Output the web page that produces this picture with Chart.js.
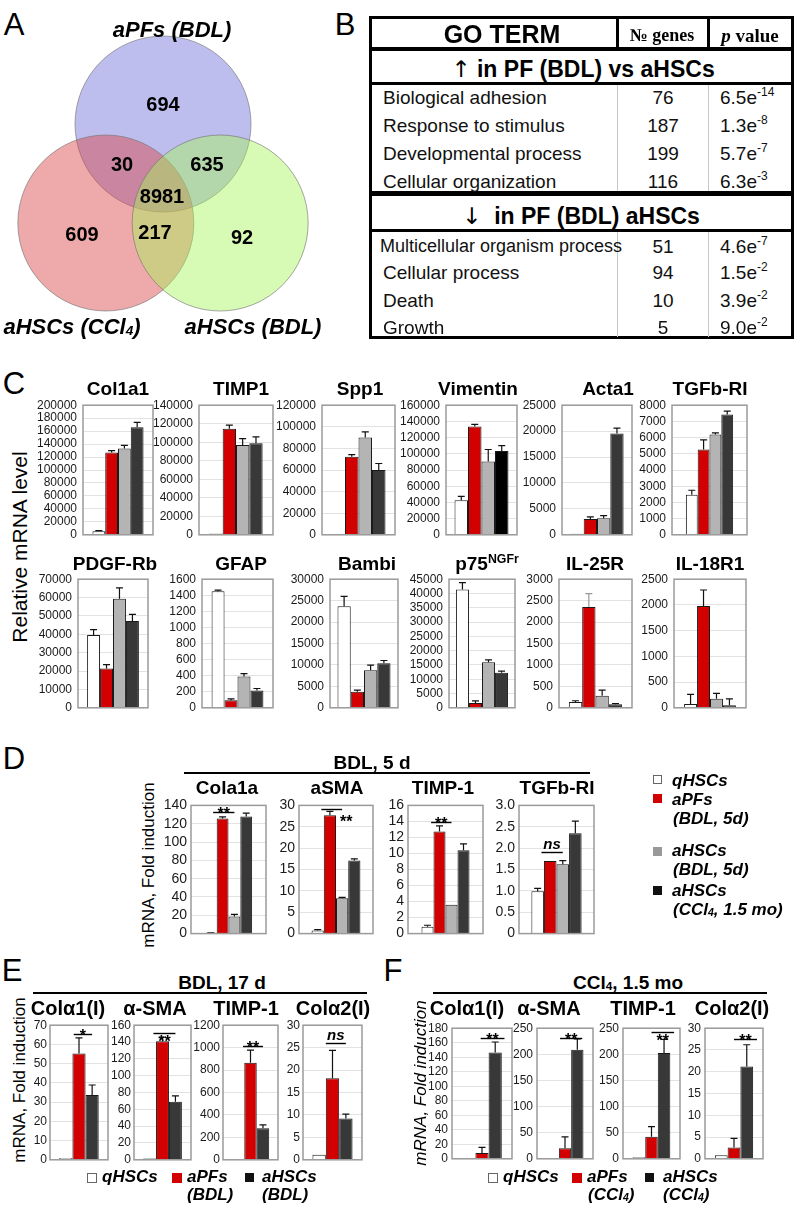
<!DOCTYPE html>
<html>
<head>
<meta charset="utf-8">
<script src="https://cdn.jsdelivr.net/npm/chart.js@4/dist/chart.umd.min.js"></script>
<style>
body { margin: 0; background: #fff; }
#page { position: relative; width: 799px; height: 1205px; overflow: hidden; font-family: "Liberation Sans", Arial, sans-serif; color: #000; }
.t { position: absolute; white-space: nowrap; line-height: 1; }
.sub { font-size: 0.62em; position: relative; top: 0.05em; }
.sup { font-size: 0.65em; position: relative; top: -0.55em; }
.pe { font-size: 12px; position: relative; top: -8px; }
.arr { font-family: "DejaVu Sans", sans-serif; font-weight: normal; color: #000; }
canvas { position: absolute; }
</style>
</head>
<body>
<div id="page"></div>
<script>
// ---------------- data ----------------
// A: Venn
const vennSets = ["aPFs (BDL)", "aHSCs (CCl4)", "aHSCs (BDL)"];
const vennRegions = ["aPFs only", "aPFs + CCl4", "aPFs + BDL", "all three", "CCl4 only", "CCl4 + BDL", "BDL only"];
const vennCounts = [694, 30, 635, 8981, 609, 217, 92];

// B: GO terms
const goUpTerms = ["Biological adhesion", "Response to stimulus", "Developmental process", "Cellular organization"];
const goUpGenes = [76, 187, 199, 116];
const goUpMant = ["6.5", "1.3", "5.7", "6.3"];
const goUpExp = ["-14", "-8", "-7", "-3"];
const goDownTerms = ["Multicellular organism process", "Cellular process", "Death", "Growth"];
const goDownGenes = [51, 94, 10, 5];
const goDownMant = ["4.6", "1.5", "3.9", "9.0"];
const goDownExp = ["-7", "-2", "-2", "-2"];

// C: relative mRNA level (qHSCs, aPFs, aHSCs BDL, aHSCs CCl4)
const genesC = ["Col1a1", "TIMP1", "Spp1", "Vimentin", "Acta1", "TGFb-RI", "PDGF-Rb", "GFAP", "Bambi", "p75NGFr", "IL-25R", "IL-18R1"];
const qC = [5500, 1500, null, 42700, 200, 2470, 39600, 1450, 23700, 41400, 134, 75];
const qCerr = [1000, 0, 0, 4700, 0, 280, 3000, 15, 2300, 2400, 30, 186];
const aPFC = [127000, 114500, 72300, 133700, 3070, 5270, 21400, 95, 3740, 1680, 2350, 1978];
const aPFCerr = [3000, 4000, 2000, 2700, 370, 590, 2100, 15, 360, 770, 315, 312];
const bdlC = [133000, 97000, 90000, 90500, 3180, 6190, 59300, 390, 8740, 15900, 284, 174];
const bdlCerr = [5000, 7000, 5300, 14800, 500, 100, 6000, 35, 1200, 900, 126, 106];
const ccl4C = [166000, 98800, 60000, 103500, 19560, 7430, 47300, 215, 10370, 12300, 80, 50];
const ccl4Cerr = [7500, 7000, 6000, 6700, 1000, 200, 3500, 25, 670, 550, 20, 124];
const yMaxC = [200000, 140000, 120000, 160000, 25000, 8000, 70000, 1600, 30000, 45000, 3000, 2500];
const yStepC = [20000, 20000, 20000, 20000, 5000, 1000, 10000, 200, 5000, 5000, 500, 500];

// D: BDL 5 d, fold induction
const genesD = ["Cola1a", "aSMA", "TIMP-1", "TGFb-RI"];
const qD = [0.8, 0.75, 0.84, 0.99];
const qDerr = [0.1, 0.2, 0.2, 0.07];
const aPFD = [125.6, 27.7, 12.75, 1.70];
const aPFDerr = [1.8, 0.9, 0.7, 0];
const bdlD = [18.6, 8.3, 3.6, 1.62];
const bdlDerr = [2.4, 0.2, 0, 0.09];
const ccl4D = [127.8, 17.1, 10.4, 2.35];
const ccl4Derr = [3.8, 0.4, 0.8, 0.28];
const yMaxD = [140, 30, 16, 3];
const yStepD = [20, 5, 2, 0.5];
const sigTextD = ["**", "**", "**", "ns"];
const sigYD = [132.6, 29.1, 13.95, 1.92];

// E: BDL 17 d
const genesE = ["Colα1(I)", "α-SMA", "TIMP-1", "Colα2(I)"];
const qE = [1.0, 1.5, 5, 1.1];
const aPFE = [55.3, 141, 865, 18.2];
const aPFEerr = [8.1, 5, 113, 6.2];
const aHSCE = [33.7, 69, 281, 9.2];
const aHSCEerr = [5.2, 7, 30, 1.0];
const yMaxE = [70, 160, 1200, 30];
const yStepE = [10, 20, 200, 5];
const sigTextE = ["*", "**", "**", "ns"];
const sigYE = [65.3, 150.5, 1013, 26];

// F: CCl4 1.5 mo
const genesF = ["Colα1(I)", "α-SMA", "TIMP-1", "Colα2(I)"];
const qF = [1, 1, 3, 0.8];
const aPFF = [8.1, 20, 42, 2.6];
const aPFFerr = [7.7, 22, 19.5, 2.1];
const aHSCF = [146.5, 208.6, 202.5, 21.2];
const aHSCFerr = [14.5, 21, 26, 5];
const yMaxF = [180, 250, 250, 30];
const yStepF = [20, 50, 50, 5];
const sigTextF = ["**", "**", "**", "**"];
const sigYF = [166.5, 231, 242.5, 27.5];

// ---------------- layout ----------------
const boxC = [[83,153],[199,273],[322,395],[446,517],[562,632],[672,747],[78,148],[202,273],[330,398],[449,515],[559,632],[674,746]];
const rowC = [[402,538],[576,711]];
const titleXC = [118,241,360,478,608,710,115,241,367,487,595,710];
const fracC = [0.73,0.72,0.74,0.76,0.76,0.63,0.74,0.73,0.78,0.79,0.73,0.72];
const boxD = [[191,266],[299,373],[408,483],[519,594]];
const rowD = [803,936];
const titleXD = [227,337,443,557];
const fracD = [0.63,0.66,0.64,0.67];
const sigSpanD = [[0.2,2],[0.3,2],[0.3,2],[0.3,2]];
const sigModeD = ["above","right","above","above"];
const boxE = [[50,108],[134,191],[223,278],[303,362]];
const rowE = [1025,1160];
const titleXE = [68,155,246,333];
const sigSpanE = [[0.6,2],[0.3,2],[0.4,2],[0.5,2]];
const sigModeE = ["above","below","above","above"];
const boxF = [[452,512],[537,593],[623,680],[705,763]];
const rowF = [1027,1160];
const titleXF = [467,549,643,732];
const sigSpanF = [[0.9,2.7],[0.6,2.4],[1,2.8],[1,2.8]];
const sigModeF = ["above","above","below","above"];

const WHITE = "#ffffff", RED = "#d20000", GRAY = "#b4b4b4", DARK = "#383838";

const page = document.getElementById("page");
Chart.defaults.font.family = '"Liberation Sans", Arial, sans-serif';
Chart.defaults.color = "#1a1a1a";

function rich(s) {
  return s.replace("CCl4", 'CCl<span class="sub">4</span>').replace("NGFr", '<span class="sup">NGFr</span>');
}

function txt(x, y, html, css, align) {
  const d = document.createElement("div");
  d.className = "t";
  d.innerHTML = html;
  let tr = "translate(-50%,-50%)";
  if (align === "left") tr = "translate(0,-50%)";
  if (align === "rot") tr = "translate(-50%,-50%) rotate(-90deg)";
  d.style.cssText = `left:${x}px;top:${y}px;transform:${tr};` + (css || "");
  page.appendChild(d);
}

function rect(x, y, w, h, c, extra) {
  const d = document.createElement("div");
  d.style.cssText = `position:absolute;left:${x}px;top:${y}px;width:${w}px;height:${h}px;background:${c};` + (extra || "");
  page.appendChild(d);
}

function mkCanvas(x, y, w, h) {
  const c = document.createElement("canvas");
  c.width = w;
  c.height = h;
  c.style.left = x + "px";
  c.style.top = y + "px";
  page.appendChild(c);
  return c;
}

// panel letters
[["A",14,24],["B",345,24],["C",14,383],["D",14,758],["E",12,970],["F",393,970]].forEach(p => {
  txt(p[1], p[2], p[0], "font-size:31px");
});

// ---------------- A: Venn ----------------
const VR = 88, VD = 66, VCX = 163, VCY = 190;
const setAngles = [-90, 150, 30];
const vennFill = ["rgba(111,111,217,0.45)", "rgba(217,66,66,0.45)", "rgba(166,244,88,0.45)"];
const regionOffsets = [[0,-85],[-41,-25],[44,-25],[-1,7],[-81,45],[-8,43],[79,48]];

const vennLabels = {
  id: "vennLabels",
  afterDatasetsDraw(chart) {
    const ctx = chart.ctx, sx = chart.scales.x, sy = chart.scales.y;
    ctx.save();
    ctx.font = 'bold 20px "Liberation Sans", Arial, sans-serif';
    ctx.fillStyle = "#000";
    ctx.textAlign = "center";
    ctx.textBaseline = "middle";
    vennCounts.forEach((n, i) => {
      ctx.fillText(String(n), sx.getPixelForValue(VCX + regionOffsets[i][0]), sy.getPixelForValue(VCY + regionOffsets[i][1]));
    });
    ctx.restore();
  }
};

new Chart(mkCanvas(0, 0, 330, 320), {
  type: "scatter",
  data: {
    datasets: [{
      data: setAngles.map(a => ({ x: VCX + VD * Math.cos(a * Math.PI / 180), y: VCY + VD * Math.sin(a * Math.PI / 180) })),
      pointRadius: ctx => ctx.chart.scales.x.getPixelForValue(VR) - ctx.chart.scales.x.getPixelForValue(0),
      backgroundColor: vennFill,
      borderColor: "rgba(110,110,110,0.6)",
      borderWidth: 1,
      clip: false
    }]
  },
  options: {
    responsive: false, animation: false, events: [],
    layout: { padding: 0 },
    scales: { x: { display: false, min: 0, max: 330 }, y: { display: false, min: 0, max: 320, reverse: true } },
    plugins: { legend: { display: false }, tooltip: { enabled: false } }
  },
  plugins: [vennLabels]
});

const vennSetPos = [[172,30],[72,327],[253,327]];
vennSets.forEach((s, i) => txt(vennSetPos[i][0], vennSetPos[i][1], rich(s), "font-weight:bold;font-style:italic;font-size:22px"));

// ---------------- B: GO table ----------------
rect(369, 16, 425, 3, "#000");
rect(369, 336, 425, 3, "#000");
rect(369, 16, 3, 323, "#000");
rect(791, 16, 3, 323, "#000");
rect(369, 47, 425, 4, "#000");
rect(369, 82, 425, 3, "#000");
rect(369, 191, 425, 5, "#000");
rect(369, 229, 425, 3, "#000");
rect(616, 16, 3, 33, "#000");
rect(707, 16, 3, 33, "#000");
rect(617, 85, 1, 106, "#c8c8c8");
rect(708, 85, 1, 106, "#c8c8c8");
rect(617, 232, 1, 105, "#c8c8c8");
rect(708, 232, 1, 105, "#c8c8c8");

txt(502, 34, "GO TERM", "font-weight:bold;font-size:25px");
txt(662, 35, "№ genes", 'font-family:"Liberation Serif",serif;font-weight:bold;font-size:18px');
txt(750, 35, "<i>p</i> value", 'font-family:"Liberation Serif",serif;font-weight:bold;font-size:19px');
txt(583, 69, '<span class="arr">↑</span> in PF (BDL) vs aHSCs', "font-weight:bold;font-size:23px");
txt(581, 216, '<span class="arr">↓</span>&nbsp; in PF (BDL) aHSCs', "font-weight:bold;font-size:23px");

const upRowY = [97, 125, 153, 181];
goUpTerms.forEach((t, i) => {
  txt(383, upRowY[i], t, "font-size:19px;color:#111", "left");
  txt(663, upRowY[i], String(goUpGenes[i]), "font-size:19px;color:#111");
  txt(720, upRowY[i], goUpMant[i] + 'e<span class="pe">' + goUpExp[i] + "</span>", "font-size:19px;color:#111", "left");
});
const downRowY = [246, 272, 300, 327];
const downTermSize = [18, 19, 19, 19];
const downTermX = [380, 383, 383, 383];
goDownTerms.forEach((t, i) => {
  txt(downTermX[i], downRowY[i], t, `font-size:${downTermSize[i]}px;color:#111`, "left");
  txt(663, downRowY[i], String(goDownGenes[i]), "font-size:19px;color:#111");
  txt(720, downRowY[i], goDownMant[i] + 'e<span class="pe">' + goDownExp[i] + "</span>", "font-size:19px;color:#111", "left");
});

// ---------------- bar chart helper ----------------
const AXIS_W = 60, PAD_T = 10, PAD_B = 10, PAD_R = 4;

function decor(opt) {
  return {
    id: "decor",
    afterDatasetsDraw(chart) {
      const ctx = chart.ctx, ys = chart.scales.y, a = chart.chartArea;
      ctx.save();
      // error bars
      chart.data.datasets.forEach((ds, i) => {
        const bar = chart.getDatasetMeta(i).data[0];
        const v = ds.data[0], e = ds.err;
        if (v == null || !e) return;
        const top = ys.getPixelForValue(v + e);
        ctx.strokeStyle = ds.errColor || "#111";
        ctx.lineWidth = 1.2;
        ctx.beginPath();
        ctx.moveTo(bar.x, bar.y);
        ctx.lineTo(bar.x, top);
        ctx.moveTo(bar.x - 3.5, top);
        ctx.lineTo(bar.x + 3.5, top);
        ctx.stroke();
      });
      // significance bracket
      if (opt.sig) {
        const s = opt.sig;
        const xs = chart.data.datasets.map((d, i) => chart.getDatasetMeta(i).data[0].x);
        const step = xs[1] - xs[0];
        const at = f => xs[0] + f * step;
        const ly = Math.round(ys.getPixelForValue(s.y)) + 0.5;
        ctx.strokeStyle = "#000";
        ctx.lineWidth = 1.4;
        ctx.beginPath();
        ctx.moveTo(at(s.from), ly);
        ctx.lineTo(at(s.to), ly);
        ctx.stroke();
        const isNs = s.text === "ns";
        ctx.font = (isNs ? "italic bold 15px " : "bold 16px ") + '"Liberation Sans", Arial, sans-serif';
        ctx.fillStyle = "#000";
        ctx.textBaseline = "alphabetic";
        const mid = (at(s.from) + at(s.to)) / 2;
        if (s.mode === "right") {
          ctx.textAlign = "left";
          ctx.fillText(s.text, at(s.to) - 2, ly + 17);
        } else if (s.mode === "below") {
          ctx.textAlign = "center";
          ctx.fillText(s.text, mid, ly + 13);
        } else {
          ctx.textAlign = "center";
          ctx.fillText(s.text, mid, isNs ? ly - 4 : ly + 6);
        }
      }
      // plot frame
      ctx.strokeStyle = "#9a9a9a";
      ctx.lineWidth = 1.5;
      ctx.strokeRect(a.left, a.top, a.right - a.left, a.bottom - a.top);
      ctx.restore();
    }
  };
}

function barChart(box, row, series, yMax, yStep, opt) {
  const [x0, x1] = box, [y0, y1] = row;
  const cv = mkCanvas(x0 - AXIS_W, y0 - PAD_T, x1 - x0 + AXIS_W + PAD_R, y1 - y0 + PAD_T + PAD_B);
  return new Chart(cv, {
    type: "bar",
    data: {
      labels: [""],
      datasets: series.map(s => ({
        data: [s.value],
        err: s.err,
        errColor: s.errColor,
        backgroundColor: s.color,
        borderColor: "#1a1a1a",
        borderWidth: 1,
        categoryPercentage: opt.frac,
        barPercentage: 1
      }))
    },
    options: {
      responsive: false, animation: false, events: [],
      layout: { padding: { left: 0, right: PAD_R, top: PAD_T, bottom: PAD_B } },
      plugins: { legend: { display: false }, tooltip: { enabled: false } },
      scales: {
        x: { display: false },
        y: {
          min: 0, max: yMax,
          afterFit: s => { s.width = AXIS_W; },
          ticks: {
            stepSize: yStep, autoSkip: false, padding: opt.tickPad,
            font: { size: opt.tickSize }, color: "#1a1a1a",
            callback: v => (yStep < 1 ? (v === 0 ? "0" : v.toFixed(1)) : String(v))
          },
          grid: { color: "#e2e2e2", drawTicks: false },
          border: { display: false }
        }
      }
    },
    plugins: [decor(opt)]
  });
}

// ---------------- C ----------------
txt(19, 547, "Relative mRNA level", "font-size:21px", "rot");
genesC.forEach((g, i) => {
  const row = rowC[i < 6 ? 0 : 1];
  barChart(boxC[i], row, [
    { value: qC[i], err: qCerr[i], color: WHITE },
    { value: aPFC[i], err: aPFCerr[i], color: RED, errColor: g === "IL-25R" ? "#999" : null },
    { value: bdlC[i], err: bdlCerr[i], color: GRAY },
    { value: ccl4C[i], err: ccl4Cerr[i], color: g === "Vimentin" ? "#000000" : DARK }
  ], yMaxC[i], yStepC[i], { frac: fracC[i], tickSize: 12, tickPad: 6 });
  txt(titleXC[i], i < 6 ? 388 : 563, rich(g), "font-weight:bold;font-size:19px");
});

// ---------------- D ----------------
txt(372, 762, "BDL, 5 d", "font-weight:bold;font-size:19px");
rect(184, 772, 406, 2, "#000");
txt(148, 865, "mRNA, Fold induction", "font-size:17px", "rot");
genesD.forEach((g, i) => {
  barChart(boxD[i], rowD, [
    { value: qD[i], err: qDerr[i], color: WHITE },
    { value: aPFD[i], err: aPFDerr[i], color: RED },
    { value: bdlD[i], err: bdlDerr[i], color: GRAY },
    { value: ccl4D[i], err: ccl4Derr[i], color: DARK }
  ], yMaxD[i], yStepD[i], {
    frac: fracD[i], tickSize: 14, tickPad: 4,
    sig: { text: sigTextD[i], y: sigYD[i], from: sigSpanD[i][0], to: sigSpanD[i][1], mode: sigModeD[i] }
  });
  txt(titleXD[i], 787, g, "font-weight:bold;font-size:19px");
});
const legD = "font-weight:bold;font-style:italic;font-size:17px";
rect(653, 775, 9, 9, "#fff", "box-sizing:border-box;border:1px solid #666");
txt(672, 780, "qHSCs", legD, "left");
rect(653, 794, 9, 9, RED);
txt(672, 799, "aPFs", legD, "left");
txt(673, 818, "(BDL, 5d)", legD, "left");
rect(653, 847, 9, 9, "#999");
txt(672, 850, "aHSCs", legD, "left");
txt(673, 869, "(BDL, 5d)", legD, "left");
rect(653, 886, 9, 9, "#111");
txt(672, 890, "aHSCs", legD, "left");
txt(673, 909, rich("(CCl4, 1.5 mo)"), legD, "left");

// ---------------- E ----------------
txt(222, 982, "BDL, 17 d", "font-weight:bold;font-size:19px");
rect(33, 992, 334, 2, "#000");
txt(19, 1080, "mRNA, Fold induction", "font-size:17px", "rot");
genesE.forEach((g, i) => {
  barChart(boxE[i], rowE, [
    { value: qE[i], err: 0, color: WHITE },
    { value: aPFE[i], err: aPFEerr[i], color: RED },
    { value: aHSCE[i], err: aHSCEerr[i], color: DARK }
  ], yMaxE[i], yStepE[i], {
    frac: 0.68, tickSize: 12, tickPad: 3,
    sig: { text: sigTextE[i], y: sigYE[i], from: sigSpanE[i][0], to: sigSpanE[i][1], mode: sigModeE[i] }
  });
  txt(titleXE[i], 1008, g, "font-weight:bold;font-size:20px");
});
const legE = "font-weight:bold;font-style:italic;font-size:17px";
rect(87, 1173, 10, 10, "#fff", "box-sizing:border-box;border:1px solid #666");
txt(102, 1176, "qHSCs", legE, "left");
rect(172, 1173, 10, 10, RED);
txt(187, 1176, "aPFs", legE, "left");
txt(187, 1194, "(BDL)", legE, "left");
rect(245, 1173, 9, 9, "#111");
txt(262, 1176, "aHSCs", legE, "left");
txt(262, 1194, "(BDL)", legE, "left");

// ---------------- F ----------------
txt(628, 982, rich("CCl4, 1.5 mo"), "font-weight:bold;font-size:19px");
rect(433, 992, 334, 2, "#000");
txt(420, 1083, "mRNA, <i>Fold induction</i>", "font-size:17px;font-style:italic", "rot");
genesF.forEach((g, i) => {
  barChart(boxF[i], rowF, [
    { value: qF[i], err: 0, color: WHITE },
    { value: aPFF[i], err: aPFFerr[i], color: RED },
    { value: aHSCF[i], err: aHSCFerr[i], color: DARK }
  ], yMaxF[i], yStepF[i], {
    frac: 0.66, tickSize: 12, tickPad: 4,
    sig: { text: sigTextF[i], y: sigYF[i], from: sigSpanF[i][0], to: sigSpanF[i][1], mode: sigModeF[i] }
  });
  txt(titleXF[i], 1008, g, "font-weight:bold;font-size:20px");
});
rect(488, 1173, 10, 10, "#fff", "box-sizing:border-box;border:1px solid #666");
txt(503, 1176, "qHSCs", legE, "left");
rect(572, 1173, 10, 10, RED);
txt(587, 1176, "aPFs", legE, "left");
txt(588, 1194, rich("(CCl4)"), legE, "left");
rect(645, 1173, 9, 9, "#111");
txt(663, 1176, "aHSCs", legE, "left");
txt(663, 1194, rich("(CCl4)"), legE, "left");
</script>
</body>
</html>
